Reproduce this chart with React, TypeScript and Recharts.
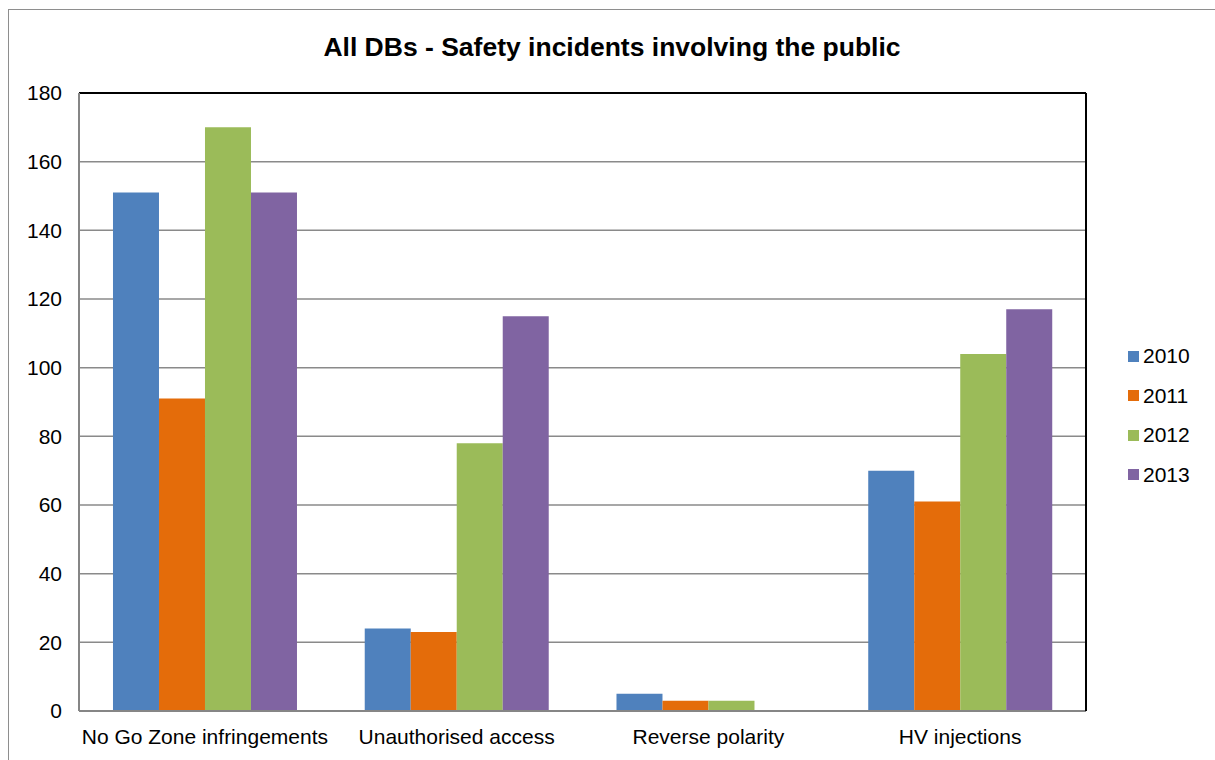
import {
  Bar,
  BarChart,
  CartesianGrid,
  Legend,
  Line,
  ReferenceLine,
  XAxis,
  YAxis,
} from "recharts";

const FONT = '"Liberation Sans", Arial, sans-serif';

const categories = [
  "No Go Zone infringements",
  "Unauthorised access",
  "Reverse polarity",
  "HV injections",
];
const years = ["2010", "2011", "2012", "2013"];
const values2010 = [151, 24, 5, 70];
const values2011 = [91, 23, 3, 61];
const values2012 = [170, 78, 3, 104];
const values2013 = [151, 115, 0, 117];
const yTicks = [0, 20, 40, 60, 80, 100, 120, 140, 160, 180];
const seriesColors = ["#4F81BD", "#E46C0A", "#9BBB59", "#8064A2"];

const seriesValues = [values2010, values2011, values2012, values2013];

const data = categories.map((name, i) => {
  const row: Record<string, string | number> = { name };
  years.forEach((y, s) => {
    row[y] = seriesValues[s][i];
  });
  return row;
});

const YearLegend = (props: any) => {
  const items = (props.payload ?? []).filter((p: any) => p.type !== "none");
  return (
    <div style={{ fontFamily: FONT, fontSize: 21, color: "#000" }}>
      {items.map((item: any) => (
        <div
          key={item.value}
          style={{ height: 39.5, display: "flex", alignItems: "center" }}
        >
          <span
            style={{
              width: 11,
              height: 11,
              background: item.color,
              display: "inline-block",
              marginRight: 4,
            }}
          />
          <span>{item.value}</span>
        </div>
      ))}
    </div>
  );
};

export default function App() {
  return (
    <div
      style={{
        position: "absolute",
        left: 0,
        top: 0,
        width: 1215,
        height: 760,
        overflow: "hidden",
        background: "#fff",
      }}
    >
      <div
        style={{
          position: "absolute",
          left: 8,
          top: 9,
          width: 1400,
          height: 900,
          borderTop: "1.5px solid #8e8e8e",
          borderLeft: "1.5px solid #8e8e8e",
        }}
      />
      <div
        style={{
          position: "absolute",
          left: 0,
          top: 32,
          width: 1224,
          textAlign: "center",
          fontFamily: FONT,
          fontWeight: "bold",
          fontSize: 26.5,
          lineHeight: "30px",
          color: "#000",
        }}
      >
        All DBs - Safety incidents involving the public
      </div>
      <div style={{ position: "absolute", left: 0, top: 0 }}>
        <BarChart
          width={1215}
          height={760}
          data={data}
          margin={{ top: 93, right: 128, bottom: 0, left: 0 }}
          barCategoryGap="13.5%"
          barGap={0}
        >
          <CartesianGrid vertical={false} stroke="#8a8a8a" strokeWidth={1.5} />
          <XAxis
            dataKey="name"
            height={49}
            tickLine={false}
            tickSize={0}
            tickMargin={18}
            axisLine={{ stroke: "#868686", strokeWidth: 2 }}
            tick={{ fill: "#000", fontSize: 21, fontFamily: FONT }}
            interval={0}
          />
          <YAxis
            width={79}
            domain={[0, 180]}
            ticks={yTicks}
            tickLine={false}
            tickSize={0}
            tickMargin={17}
            axisLine={{ stroke: "#868686", strokeWidth: 2 }}
            tick={{ fill: "#000", fontSize: 21, fontFamily: FONT }}
          />
          {/* right edge of the plot frame in black */}
          <YAxis
            yAxisId="right"
            orientation="right"
            width={1}
            domain={[0, 180]}
            ticks={yTicks}
            tick={false}
            tickLine={false}
            axisLine={{ stroke: "#000", strokeWidth: 2 }}
          />
          <Legend
            layout="vertical"
            align="center"
            verticalAlign="middle"
            wrapperStyle={{ left: 1128, top: 336.5, width: 80 }}
            content={<YearLegend />}
          />
          {years.map((y, s) => (
            <Bar
              key={y}
              dataKey={y}
              name={y}
              fill={seriesColors[s]}
              isAnimationActive={false}
            />
          ))}
          {/* empty series so the right axis gets a scale */}
          <Line
            yAxisId="right"
            dataKey="frame"
            legendType="none"
            dot={false}
            activeDot={false}
            stroke="none"
            isAnimationActive={false}
          />
          {/* top edge of the plot frame in black */}
          <ReferenceLine y={180} stroke="#000" strokeWidth={2} />
        </BarChart>
      </div>
    </div>
  );
}
